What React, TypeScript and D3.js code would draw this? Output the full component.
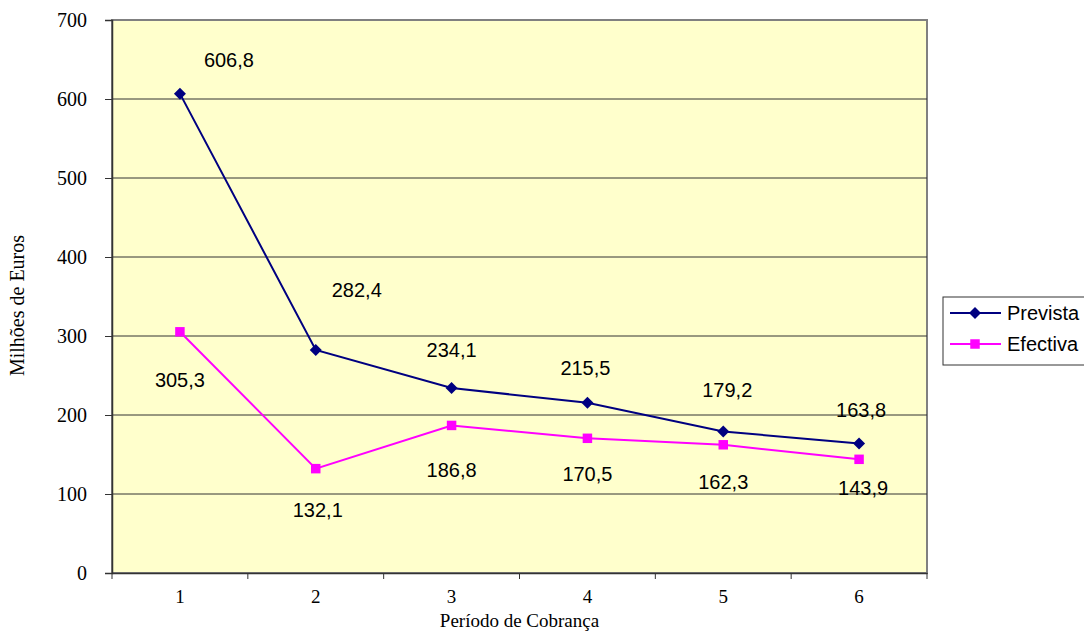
import * as d3 from 'd3';
import React, { useRef, useEffect } from 'react';

const periods = ['1', '2', '3', '4', '5', '6'];
const prevista = [606.8, 282.4, 234.1, 215.5, 179.2, 163.8];
const efectiva = [305.3, 132.1, 186.8, 170.5, 162.3, 143.9];
const yTicks = [0, 100, 200, 300, 400, 500, 600, 700];
// data label offsets (label placement as in the original)
const prevLabelOff = [[49, -34], [41, -60], [0, -38], [-2, -35], [4, -41], [2, -34]];
const efecLabelOff = [[0, 48], [2, 41], [0, 45], [0, 36], [0, 37], [4, 29]];

const fmt = (v: number) => v.toFixed(1).replace('.', ',');
const serif = '"Liberation Serif", "Times New Roman", serif';
const sans = '"Liberation Sans", Arial, sans-serif';

function App(): any {
  const ref = useRef(null);

  const width = 1084;
  const height = 631;
  const margin = { top: 20, right: 157, bottom: 58, left: 112 };

  useEffect(() => {
    const svg = d3.select(ref.current);
    svg.selectAll('*').remove();

    const x = d3.scaleBand()
      .domain(periods)
      .range([margin.left, width - margin.right]);
    const y = d3.scaleLinear()
      .domain([0, 700])
      .range([height - margin.bottom, margin.top]);

    const cx = (i: number) => (x(periods[i]) as number) + x.bandwidth() / 2;

    // plot area
    svg.append('rect')
      .attr('x', margin.left)
      .attr('y', margin.top)
      .attr('width', width - margin.right - margin.left)
      .attr('height', height - margin.bottom - margin.top)
      .attr('fill', '#FFFFCC')
      .attr('stroke', '#808080')
      .attr('stroke-width', 2);

    // gridlines
    svg.append('g')
      .selectAll('line')
      .data(yTicks.filter(t => t > 0 && t < 700))
      .join('line')
      .attr('x1', margin.left)
      .attr('x2', width - margin.right)
      .attr('y1', d => y(d))
      .attr('y2', d => y(d))
      .attr('stroke', '#333')
      .attr('stroke-width', 1);

    // y axis
    const yAxis = svg.append('g')
      .attr('transform', `translate(${margin.left},0)`)
      .call(d3.axisLeft(y).tickValues(yTicks).tickSize(7).tickPadding(18));
    yAxis.attr('font-family', serif).attr('font-size', 20);
    yAxis.select('.domain').attr('stroke', '#333').attr('stroke-width', 1.5);
    yAxis.selectAll('.tick line').attr('stroke', '#333');
    yAxis.selectAll('.tick text').attr('fill', '#000');

    // x axis
    const xAxis = svg.append('g')
      .attr('transform', `translate(0,${height - margin.bottom})`)
      .call(d3.axisBottom(x).tickSize(0).tickPadding(17));
    xAxis.attr('font-family', serif).attr('font-size', 19);
    xAxis.select('.domain').attr('stroke', '#333').attr('stroke-width', 1.5);
    xAxis.selectAll('.tick text').attr('fill', '#000');
    xAxis.selectAll('line.bt')
      .data(d3.range(periods.length + 1))
      .join('line')
      .attr('class', 'bt')
      .attr('x1', i => margin.left + i * x.step())
      .attr('x2', i => margin.left + i * x.step())
      .attr('y1', 0)
      .attr('y2', 6)
      .attr('stroke', '#333');

    // titles
    svg.append('text')
      .attr('x', (margin.left + width - margin.right) / 2)
      .attr('y', 627)
      .attr('text-anchor', 'middle')
      .attr('font-family', serif)
      .attr('font-size', 19)
      .text('Período de Cobrança');
    svg.append('text')
      .attr('transform', `translate(24,${(margin.top + height - margin.bottom) / 2 + 9}) rotate(-90)`)
      .attr('text-anchor', 'middle')
      .attr('font-family', serif)
      .attr('font-size', 20)
      .text('Milhões de Euros');

    const line = d3.line<number>()
      .x((_, i) => cx(i))
      .y(d => y(d));

    const series = [
      { name: 'Prevista', data: prevista, color: '#000080', rot: 45, size: 72, off: prevLabelOff },
      { name: 'Efectiva', data: efectiva, color: '#FF00FF', rot: 0, size: 90, off: efecLabelOff },
    ];

    series.forEach(s => {
      svg.append('path')
        .datum(s.data)
        .attr('d', line)
        .attr('fill', 'none')
        .attr('stroke', s.color)
        .attr('stroke-width', 2);
      svg.append('g')
        .selectAll('path')
        .data(s.data)
        .join('path')
        .attr('transform', (d, i) => `translate(${cx(i)},${y(d)}) rotate(${s.rot})`)
        .attr('d', d3.symbol().type(d3.symbolSquare).size(s.size)())
        .attr('fill', s.color);
      svg.append('g')
        .selectAll('text')
        .data(s.data)
        .join('text')
        .attr('x', (_, i) => cx(i) + s.off[i][0])
        .attr('y', (d, i) => y(d) + s.off[i][1])
        .attr('dy', '0.35em')
        .attr('text-anchor', 'middle')
        .attr('font-family', sans)
        .attr('font-size', 20)
        .attr('fill', '#000')
        .text(d => fmt(d));
    });

    // legend
    const lg = svg.append('g').attr('transform', 'translate(943,297)');
    lg.append('rect')
      .attr('width', 150)
      .attr('height', 68)
      .attr('fill', '#fff')
      .attr('stroke', '#333')
      .attr('stroke-width', 1);
    series.forEach((s, i) => {
      const ly = 16 + i * 31;
      lg.append('line')
        .attr('x1', 7).attr('x2', 58)
        .attr('y1', ly).attr('y2', ly)
        .attr('stroke', s.color)
        .attr('stroke-width', 2);
      lg.append('path')
        .attr('transform', `translate(32,${ly}) rotate(${s.rot})`)
        .attr('d', d3.symbol().type(d3.symbolSquare).size(s.size)())
        .attr('fill', s.color);
      lg.append('text')
        .attr('x', 64)
        .attr('y', ly)
        .attr('dy', '0.35em')
        .attr('font-family', sans)
        .attr('font-size', 20)
        .text(s.name);
    });
  }, []);

  return (
    <svg
      ref={ref}
      width={width}
      height={height}
      style={{ position: 'absolute', left: 0, top: 0, background: '#fff' }}
    />
  );
}

export default App;
